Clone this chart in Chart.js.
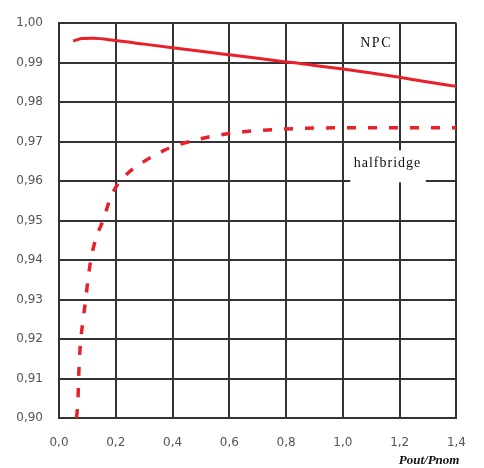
<!DOCTYPE html>
<html>
<head>
<meta charset="utf-8">
<script src="https://cdn.jsdelivr.net/npm/chart.js@4/dist/chart.umd.min.js"></script>
<style>
  html, body { margin: 0; padding: 0; background: #fff; }
  canvas { display: block; }
</style>
</head>
<body>
<canvas id="chart" width="484" height="468"></canvas>
<script>
// Valores
const npcX = [0.05, 0.08, 0.12, 0.2, 0.3, 0.4, 0.5, 0.6, 0.7, 0.8, 0.85, 0.9, 1.0, 1.1, 1.2, 1.3, 1.4];
const npcY = [0.9955, 0.9961, 0.9962, 0.9956, 0.9947, 0.9938, 0.9929, 0.9920, 0.9911, 0.9902, 0.9898, 0.9893, 0.9884, 0.9874, 0.9863, 0.9851, 0.9840];

const halfX = [0.062, 0.067, 0.069, 0.072, 0.077, 0.085, 0.094, 0.102, 0.112, 0.13, 0.155, 0.18, 0.205, 0.25, 0.3, 0.37, 0.41, 0.47, 0.55, 0.65, 0.8, 1.0, 1.2, 1.4];
const halfY = [0.900, 0.905, 0.910, 0.915, 0.920, 0.925, 0.930, 0.935, 0.940, 0.9455, 0.950, 0.9555, 0.959, 0.9625, 0.965, 0.9678, 0.969, 0.9702, 0.9715, 0.9725, 0.9732, 0.9735, 0.9735, 0.9735];

const xTicks = [0, 0.2, 0.4, 0.6, 0.8, 1.0, 1.2, 1.4];
const seriesNames = ['NPC', 'halfbridge'];
const xTitle = 'Pout/Pnom';

const red = '#e8202a';
const gridColor = '#333';

function toPoints(xs, ys) {
    return xs.map((x, i) => ({ x: x, y: ys[i] }));
}

// Rótulos das curvas e título do eixo x
const labelsPlugin = {
    id: 'curveLabels',
    beforeDatasetsDraw(chart) {
        const ctx = chart.ctx;
        const xs = chart.scales.x;
        const ys = chart.scales.y;
        // caixa branca atrás de "halfbridge"
        const x0 = xs.getPixelForValue(1.026), x1 = xs.getPixelForValue(1.292);
        const y0 = ys.getPixelForValue(0.9678), y1 = ys.getPixelForValue(0.9597);
        ctx.save();
        ctx.fillStyle = '#fff';
        ctx.fillRect(x0, y0, x1 - x0, y1 - y0);
        ctx.restore();
    },
    afterDraw(chart) {
        const ctx = chart.ctx;
        const xs = chart.scales.x;
        const ys = chart.scales.y;
        ctx.save();
        ctx.fillStyle = '#111';
        ctx.textAlign = 'center';
        ctx.textBaseline = 'middle';
        ctx.font = '14px "Liberation Serif"';
        ctx.letterSpacing = '1.5px';
        ctx.fillText(seriesNames[0], xs.getPixelForValue(1.117), ys.getPixelForValue(0.9948));
        ctx.letterSpacing = '1px';
        ctx.fillText(seriesNames[1], xs.getPixelForValue(1.157), ys.getPixelForValue(0.9645));
        ctx.letterSpacing = '0px';
        ctx.font = 'italic bold 13px "Liberation Serif"';
        ctx.textAlign = 'right';
        ctx.fillText(xTitle, chart.chartArea.right + 3, 461);
        ctx.restore();
    }
};

new Chart(document.getElementById('chart').getContext('2d'), {
    type: 'line',
    data: {
        datasets: [
            {
                label: seriesNames[0],
                data: toPoints(npcX, npcY),
                borderColor: red,
                borderWidth: 3,
                pointRadius: 0,
                cubicInterpolationMode: 'monotone',
                fill: false
            },
            {
                label: seriesNames[1],
                data: toPoints(halfX, halfY),
                borderColor: red,
                borderWidth: 3.5,
                borderDash: [9, 12],
                pointRadius: 0,
                cubicInterpolationMode: 'monotone',
                fill: false
            }
        ]
    },
    options: {
        responsive: false,
        animation: false,
        devicePixelRatio: 1,
        layout: { padding: { top: 18, right: 10, left: 0, bottom: 0 } },
        plugins: {
            legend: { display: false },
            tooltip: { enabled: false }
        },
        scales: {
            x: {
                type: 'linear',
                min: 0,
                max: 1.4,
                afterFit: s => { s.height = 50; },
                afterBuildTicks: s => { s.ticks = xTicks.map(v => ({ value: v })); },
                grid: { color: gridColor, lineWidth: 2, drawTicks: false },
                border: { color: gridColor, width: 2 },
                ticks: {
                    padding: 18,
                    color: '#555',
                    font: { family: 'DejaVu Sans', size: 12 },
                    callback: v => v.toFixed(1).replace('.', ',')
                }
            },
            y: {
                min: 0.9,
                max: 1.0,
                afterFit: s => { s.width = 59; },
                grid: { color: gridColor, lineWidth: 2, drawTicks: false },
                border: { color: gridColor, width: 2 },
                ticks: {
                    stepSize: 0.01,
                    padding: 16,
                    color: '#555',
                    font: { family: 'DejaVu Sans', size: 12 },
                    callback: v => v.toFixed(2).replace('.', ',')
                }
            }
        }
    },
    plugins: [labelsPlugin]
});
</script>
</body>
</html>
